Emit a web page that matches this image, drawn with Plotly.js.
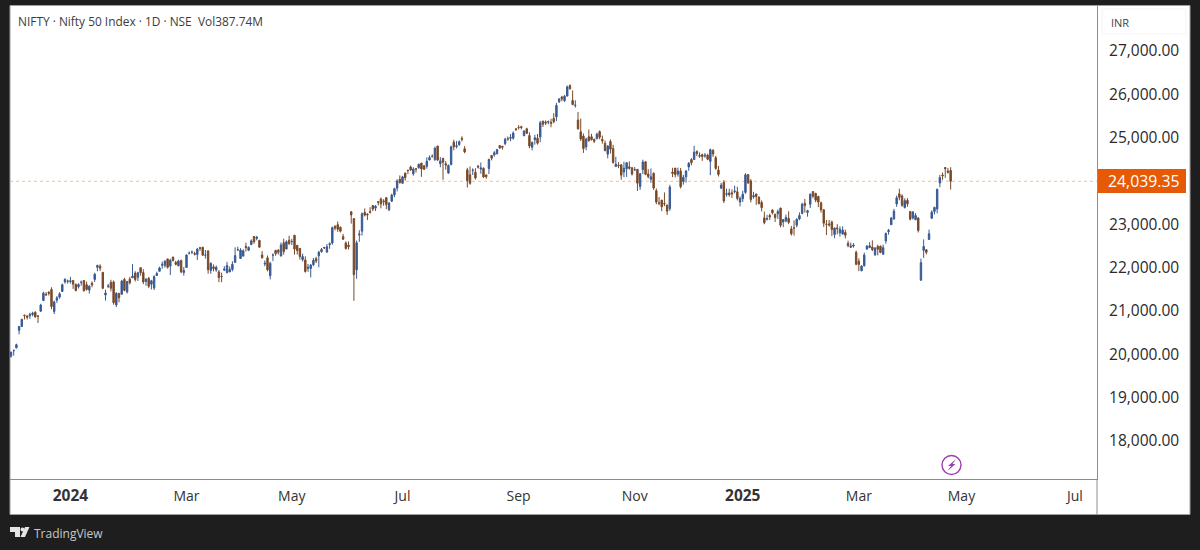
<!DOCTYPE html>
<html>
<head>
<meta charset="utf-8">
<script src="https://cdn.plot.ly/plotly-3.0.1.min.js"></script>
<style>html,body{margin:0;padding:0;background:#1e1e1e;overflow:hidden}#chart{width:1200px;height:550px}</style>
</head>
<body>
<div id="chart"></div>
<script>
// Daily bars, 29 Nov 2023 to 25 Apr 2025, one line per month
const opens = [
20000,20130,20195,20601,20687,20950,20932,20935,20966,21018,20929,21040,21287,21434,21477,21544,21034,21295,21365,21497,21716,21737,
21727,21751,21661,21605,21705,21747,21653,21529,21688,21773,22053,22080,21938,21414,21615,21707,21716,21185,21454,21433,21775,21487,
21780,21812,21921,21825,22045,21933,21727,21800,21664,21578,21865,21962,22100,22099,22248,22082,22290,22169,22090,22214,21935,
22049,22378,22403,22371,22351,22506,22517,22335,22432,21982,22064,21990,21947,21843,21989,21932,21947,22006,22164,
22455,22258,22313,22536,22447,22578,22765,22721,22677,22339,22128,22272,21860,22336,22447,22447,22316,22620,22475,22679,
22648,22794,22562,22489,22231,22224,22028,22027,22113,22255,22319,22415,22512,22404,22577,22614,23000,23038,22977,22762,22617,22568,
23338,23179,21997,22798,22888,23320,23283,23344,23480,23420,23570,23629,23586,23661,23382,23578,23723,23881,24085,
23992,24228,24291,24369,24213,24329,24351,24459,24396,24388,24532,24615,24544,24853,24445,24568,24444,24230,24423,24943,24839,24886,
25030,24789,24303,24189,24289,24248,24386,24320,24342,24184,24334,24637,24648,24680,24863,24845,24906,25024,25030,25035,25249,
25283,25300,25090,25250,25094,24823,24999,25035,25059,25430,25406,25404,25402,25488,25525,25872,25982,25900,26006,26248,25904,
25788,25452,25181,25084,24832,25066,25067,25002,25018,25186,25008,24917,24665,24956,24798,24378,24412,24418,24252,24329,24372,24349,
24302,24315,23916,24308,24489,24207,24087,24225,23822,23542,23605,23529,23488,23412,24253,24343,24204,24275,24032,
24140,24368,24539,24539,24729,24633,24652,24620,24642,24498,24753,24584,24297,23878,24014,23738,23770,23775,23801,23796,23560,
23637,23783,24196,24045,23679,23746,23674,23551,23195,23165,23250,23377,23277,23290,23421,23099,23128,23183,22940,22960,23026,23169,23296,
23528,23319,23509,23801,23761,23692,23543,23383,23050,23055,23097,22809,22963,22847,22821,22857,22609,22516,22568,22400,
22194,21974,22090,22476,22508,22521,22345,22536,22541,22354,22663,22875,23036,23169,23515,23751,23700,23433,23600,
23342,23192,23150,23190,21758,22446,22460,22695,23184,23344,23401,24000,24185,24357,24277,24290];
const highs = [
20105,20158,20292,20702,20864,20961,20941,21006,21027,21037,20950,21211,21492,21483,21505,21593,21288,21390,21477,21675,21801,21770,
21834,21755,21678,21685,21749,21763,21724,21641,21726,21928,22115,22124,21938,21539,21670,21767,21750,21482,21460,21763,21813,21741,
21832,22127,21964,21951,22053,22011,21804,21832,21766,21870,21953,22069,22186,22216,22249,22252,22297,22202,22230,22229,22060,
22353,22420,22440,22416,22497,22525,22526,22452,22446,22166,22121,22095,21991,21930,22080,22180,22073,22193,22516,
22529,22495,22470,22620,22537,22698,22776,22776,22677,22428,22213,22326,22180,22375,22447,22476,22625,22715,22675,22783,
22710,22794,22568,22499,22369,22307,22131,22131,22270,22297,22432,22500,22525,22592,22630,22993,23026,23111,22998,22825,22653,22653,
23338,23179,22670,22910,23320,23412,23300,23442,23481,23490,23579,23665,23625,23667,23558,23754,23889,24087,24174,
24164,24236,24309,24401,24363,24344,24443,24461,24402,24592,24635,24661,24837,24854,24599,24582,24504,24426,24861,24999,24971,24984,
25078,24851,24350,24382,24338,24340,24420,24473,24359,24196,24563,24638,24734,24787,24867,24858,25043,25074,25129,25192,25268,
25333,25321,25216,25275,25168,24957,25113,25130,25433,25430,25445,25441,25482,25611,25849,25956,26011,26032,26250,26277,26134,
25907,25639,25485,25143,25044,25234,25134,25028,25159,25212,25093,24978,24869,25005,24882,24605,24481,24440,24492,24484,24498,24372,
24368,24317,24229,24537,24503,24321,24337,24242,23873,23675,23606,23781,23507,23956,24351,24344,24354,24345,24188,
24301,24481,24574,24857,24751,24705,24677,24691,24675,24792,24781,24625,24394,24005,24065,23869,23867,23854,23938,23915,23689,
23822,24226,24196,24089,23795,23751,23689,23596,23340,23264,23293,23391,23292,23391,23426,23169,23270,23347,23007,23137,23184,23322,23546,
23632,23381,23762,23807,23773,23694,23569,23390,23144,23147,23133,22974,23049,23000,23000,22921,22668,22625,22613,22440,
22261,22105,22394,22565,22634,22676,22522,22577,22558,22577,22857,22940,23216,23402,23709,23869,23737,23646,23649,
23342,23350,23306,23214,22254,22698,22468,22923,23368,23452,23872,24189,24242,24359,24347,24365];
const lows = [
19970,20015,20183,20507,20687,20852,20850,20863,20923,20901,20769,21033,21287,21395,21403,21088,20976,21232,21330,21495,21678,21676,
21680,21555,21500,21564,21629,21493,21517,21448,21593,21715,21963,21969,21550,21285,21575,21499,21192,21137,21247,21429,21501,21448,
21659,21805,21726,21737,21860,21665,21629,21574,21543,21530,21860,21962,22021,22046,22024,21875,22186,22100,22075,21915,21860,
22047,22350,22362,22326,22224,22431,22329,22256,21906,21905,21960,21950,21710,21710,21970,21913,21947,21962,22163,
22428,22258,22303,22418,22428,22568,22599,22678,22504,22260,22080,21962,21777,22198,22320,22349,22305,22348,22470,22568,
22567,22348,22348,22232,22186,21932,21950,21821,22081,22151,22054,22390,22480,22404,22483,22577,22908,22871,22858,22685,22465,22465,
23062,21281,21791,22642,22789,23227,23146,23295,23354,23353,23480,23413,23475,23398,23350,23562,23670,23805,23985,
23992,24056,24207,24281,24168,24240,24331,24141,24306,24331,24522,24587,24504,24508,24362,24074,24307,24210,24411,24754,24798,24856,
24956,24686,23893,23960,24184,24079,24334,24212,24116,24099,24204,24522,24607,24654,24784,24771,24874,24973,24964,24999,25199,
25235,25235,25083,25127,24801,24753,24885,24885,24942,25292,25336,25352,25286,25376,25426,25847,25886,25871,25998,26151,25794,
25739,25230,24967,24694,24756,24947,24980,24920,25017,25008,24908,24728,24567,24680,24446,24378,24342,24074,24134,24140,24308,24172,
24280,23816,23842,24204,24180,24108,24004,23839,23509,23484,23350,23464,23263,23359,24135,24126,24145,23874,23960,
24008,24280,24408,24535,24620,24580,24510,24583,24527,24180,24601,24303,24149,23870,23537,23685,23685,23653,23760,23599,23460,
23562,23751,23977,23551,23637,23496,23503,23344,23047,23134,23146,23272,23100,23170,22976,22981,23090,23050,22786,22786,22976,23139,23277,
23319,23222,23423,23648,23556,23443,23317,22986,22798,22993,22774,22725,22814,22762,22812,22720,22518,22500,22508,22100,
21964,21964,22070,22456,22508,22430,22314,22330,22378,22353,22600,22807,23036,23155,23450,23601,23450,23412,23451,
23136,23158,23145,22858,21743,22271,22353,22695,23184,23273,23299,23903,24072,24119,24216,23848];
const closes = [
20097,20133,20268,20686,20855,20937,20901,20969,20997,20906,20926,21183,21456,21418,21453,21150,21255,21349,21441,21654,21778,21731,
21741,21665,21517,21658,21710,21513,21544,21618,21647,21894,22097,22032,21571,21462,21622,21571,21238,21453,21352,21737,21522,21725,
21697,21853,21771,21929,21930,21717,21782,21616,21743,21840,21910,22040,22122,22196,22055,22217,22212,22122,22198,21951,21982,
22338,22378,22405,22356,22474,22493,22332,22335,21997,22146,22023,22055,21817,21839,22011,22096,22004,22123,22326,
22462,22453,22434,22514,22513,22666,22642,22753,22519,22272,22147,21995,22147,22336,22368,22402,22570,22419,22643,22604,
22648,22475,22442,22302,22302,21957,22055,22104,22217,22200,22403,22466,22502,22529,22597,22967,22957,22932,22888,22704,22488,22530,
23263,21884,22620,22821,23290,23259,23264,23322,23398,23465,23557,23516,23567,23501,23537,23721,23868,24044,24010,
24141,24123,24286,24302,24323,24320,24433,24324,24315,24502,24586,24613,24800,24530,24509,24479,24413,24406,24834,24836,24857,24951,
25010,24717,24055,23992,24297,24117,24367,24347,24139,24143,24541,24572,24698,24770,24811,24823,25010,25017,25052,25151,25235,
25278,25279,25198,25145,24852,24936,25041,24918,25388,25356,25383,25418,25377,25415,25790,25939,25940,26004,26216,26178,25810,
25796,25250,25014,24795,25013,24981,24998,24964,25127,25057,24971,24749,24854,24781,24472,24435,24399,24180,24339,24466,24340,24205,
24304,23995,24213,24484,24199,24148,24141,23883,23559,23532,23453,23518,23349,23907,24221,24194,24274,23914,24131,
24276,24457,24467,24708,24677,24619,24610,24641,24548,24768,24668,24336,24198,23951,23587,23753,23727,23750,23813,23644,23644,
23742,24188,24004,23616,23707,23688,23526,23431,23085,23176,23213,23311,23203,23344,23024,23155,23205,23092,22829,22957,23163,23249,23508,
23482,23361,23739,23696,23603,23559,23381,23071,23045,23031,22929,22959,22945,22932,22913,22795,22553,22547,22545,22124,
22119,22082,22337,22544,22552,22460,22497,22470,22397,22508,22834,22907,23190,23350,23658,23668,23486,23591,23519,
23165,23332,23250,22904,22161,22535,22399,22828,23328,23437,23851,24125,24167,24328,24246,24039.35];

const barIndex = closes.map((_, i) => i);
const monthLabels = ['2024','Mar','May','Jul','Sep','Nov','2025','Mar','May','Jul'];
const monthBars = [22,65,104,145,188,231,271,314,352,394];
const priceTicks = [18000,19000,20000,21000,22000,23000,25000,26000,27000];
const lastPrice = 24039.35;
const headerText = 'NIFTY · Nifty 50 Index · 1D · NSE  Vol387.74M';

const FONT = '"Open Sans", sans-serif';
const L = 10, R = 1097, T = 6, B = 479;
const fx = p => (p - L) / (R - L);
const fy = p => (B - p) / (B - T);
const pathOf = pts => pts.map((q, i) => (i ? 'L' : 'M') + fx(q[0]).toFixed(5) + ' ' + fy(q[1]).toFixed(5)).join(' ') + ' Z';
const rect = (x0, y0, x1, y1, fill, line, layer) => ({type:'rect', xref:'paper', yref:'paper', x0:fx(x0), x1:fx(x1), y0:fy(y0), y1:fy(y1),
  fillcolor:fill, line:{color:line || fill, width:line ? 1 : 0}, layer:layer || 'below'});
const poly = (pts, fill, layer) => ({type:'path', xref:'paper', yref:'paper', path:pathOf(pts), fillcolor:fill, line:{width:0}, layer:layer || 'above'});
const circle = (cx, cy, r, fill, line, w) => ({type:'circle', xref:'paper', yref:'paper', x0:fx(cx-r), x1:fx(cx+r), y0:fy(cy+r), y1:fy(cy-r),
  fillcolor:fill, line:{color:line, width:w}, layer:'above'});
const text = (x, y, s, size, color, anchor, extra) => Object.assign({xref:'paper', yref:'paper', x:fx(x), y:fy(y), text:s, showarrow:false,
  xanchor:anchor || 'left', yanchor:'middle', font:{family:FONT, size:size, color:color}}, extra || {});

const trace = {
  type:'candlestick', x:barIndex, open:opens, high:highs, low:lows, close:closes,
  increasing:{line:{color:'#3a5b92', width:1}, fillcolor:'#2f5690'},
  decreasing:{line:{color:'#7a4a2a', width:1}, fillcolor:'#74421f'},
  whiskerwidth:0, hoverinfo:'skip'
};

const layout = {
  width:1200, height:550, paper_bgcolor:'#1e1e1e', plot_bgcolor:'#ffffff', showlegend:false,
  margin:{l:L, r:1200-R, t:T, b:550-B, pad:0}, boxgap:0.25,
  xaxis:{type:'linear', range:[-0.37,402.2], rangeslider:{visible:false}, tickmode:'array', tickvals:monthBars,
    ticktext:monthLabels.map(s => /^\d/.test(s) ? '<b><span style="font-size:15.5px">' + s + '</span></b>' : s),
    showgrid:false, zeroline:false, showline:true, linecolor:'#8c8c8c', linewidth:1, ticks:'', ticklabelstandoff:4,
    tickfont:{family:FONT, size:14, color:'#333333'}},
  yaxis:{type:'linear', range:[17169,28084], side:'right', tickmode:'array', tickvals:priceTicks,
    ticktext:priceTicks.map(v => v.toLocaleString('en-US',{minimumFractionDigits:2})),
    showgrid:false, zeroline:false, showline:true, linecolor:'#8c8c8c', linewidth:1, ticks:'', ticklabelstandoff:8, ticklabelshift:-2,
    tickfont:{family:FONT, size:15.5, color:'#2a2a2a'}},
  shapes:[
    rect(10,5.5,1190,514.5,'#ffffff','#a0a0a0','below'),
    {type:'line', xref:'paper', yref:'paper', x0:fx(1097), x1:fx(1097), y0:fy(479), y1:fy(514.5), line:{color:'#8c8c8c', width:1}, layer:'above'},
    rect(1102,9,1186,34,'#ffffff','#f3f3f3','above'),
    {type:'line', xref:'paper', yref:'y', x0:0, x1:1, y0:lastPrice, y1:lastPrice, line:{color:'#f2bd95', width:1, dash:'dot'}, layer:'below'},
    rect(1098,169,1186,193,'#e65a05',null,'above'),
    circle(951.5,465,9.5,'#ffffff','#9c3fb0',1.4),
    poly([[956,459],[948,466],[951,466],[947.5,471],[955.5,464],[952.5,464]],'#9c3fb0'),
    poly([[10,527],[20,527],[20,537],[15,537],[15,532],[10,532]],'#e4e4e4'),
    circle(22.5,529.5,2,'#e4e4e4','#e4e4e4',0),
    poly([[29.5,527],[25,537],[20.5,537],[25,527]],'#e4e4e4')
  ],
  annotations:[
    text(16,21,headerText,11.9,'#3c3c3c'),
    text(1109,22,'INR',11,'#444444'),
    text(1143.5,181,lastPrice.toLocaleString('en-US',{minimumFractionDigits:2}),15.8,'#ffffff','center'),
    text(32,533,'TradingView',12,'#c8c8c8')
  ]
};

Plotly.newPlot('chart',[trace],layout,{displayModeBar:false,responsive:false});
</script>
</body>
</html>
